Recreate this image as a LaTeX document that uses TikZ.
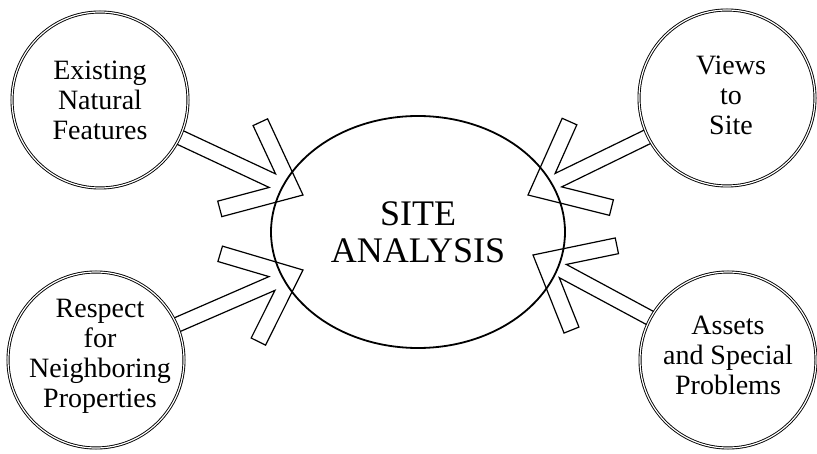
\documentclass[tikz,border=0pt]{standalone}
\usepackage{fontspec}
\setmainfont{Liberation Serif}
\usetikzlibrary{shapes.geometric,calc}
\tikzset{
  topic/.style={circle, draw, double, line width=0.9pt, double distance=1.2pt, minimum size=176pt, inner sep=0pt},
  topictext/.style={align=center, inner sep=0pt, font=\fontsize{28}{30}\selectfont},
  hub/.style={ellipse, draw, line width=1.8pt, minimum width=294pt, minimum height=232pt, inner sep=0pt, align=center, font=\fontsize{36}{37}\selectfont},
  chevline/.style={draw, line width=1.2pt, line join=miter}
}
% chevron arrow from circle node #1 to tip coordinate #2
\newcommand\chevarrow[2]{%
  \draw[chevline] let \p1=($(#2)-(#1.center)$), \n1={atan2(\y1,\x1)} in
    ($(#1.center)+(\n1+4.8:89pt)$)
    -- ($(#2)+(\n1+167.5:34.64pt)$)
    -- ($(#2)+(\n1+150.8:85.51pt)$)
    -- ($(#2)+(\n1+140:84pt)$)
    -- (#2)
    -- ($(#2)+(\n1-140:84pt)$)
    -- ($(#2)+(\n1-150.8:85.51pt)$)
    -- ($(#2)+(\n1-167.5:34.64pt)$)
    -- ($(#1.center)+(\n1-4.8:89pt)$);
}
\begin{document}
\begin{tikzpicture}[x=1pt,y=1pt]
\useasboundingbox (0,0) rectangle (817,453);
\node[topic] (nf) at (100,353) {};
\node[topic] (np) at (96,93) {};
\node[topic] (vs) at (727,355) {};
\node[topic] (ap) at (728,93) {};
\node[topictext] (nft) at ($(nf.center)+(0,0)$) {Existing\\Natural\\Features};
\node[topictext] (npt) at ($(np.center)+(4,4)$) {Respect\\for\\Neighboring\\Properties};
\node[topictext] (vst) at ($(vs.center)+(4,3)$) {Views\\to\\Site};
\node[topictext] (apt) at ($(ap.center)+(0,5)$) {Assets\\and Special\\Problems};
\node[hub] (sa) at (418,221) {SITE\\ANALYSIS};
\coordinate (t1) at ($(sa.center)+(-115,37)$);
\coordinate (t2) at ($(sa.center)+(-115,-38)$);
\coordinate (t3) at ($(sa.center)+(110,37)$);
\coordinate (t4) at ($(sa.center)+(115,-23)$);
\chevarrow{nf}{t1}
\chevarrow{np}{t2}
\chevarrow{vs}{t3}
\chevarrow{ap}{t4}
\end{tikzpicture}
\end{document}
